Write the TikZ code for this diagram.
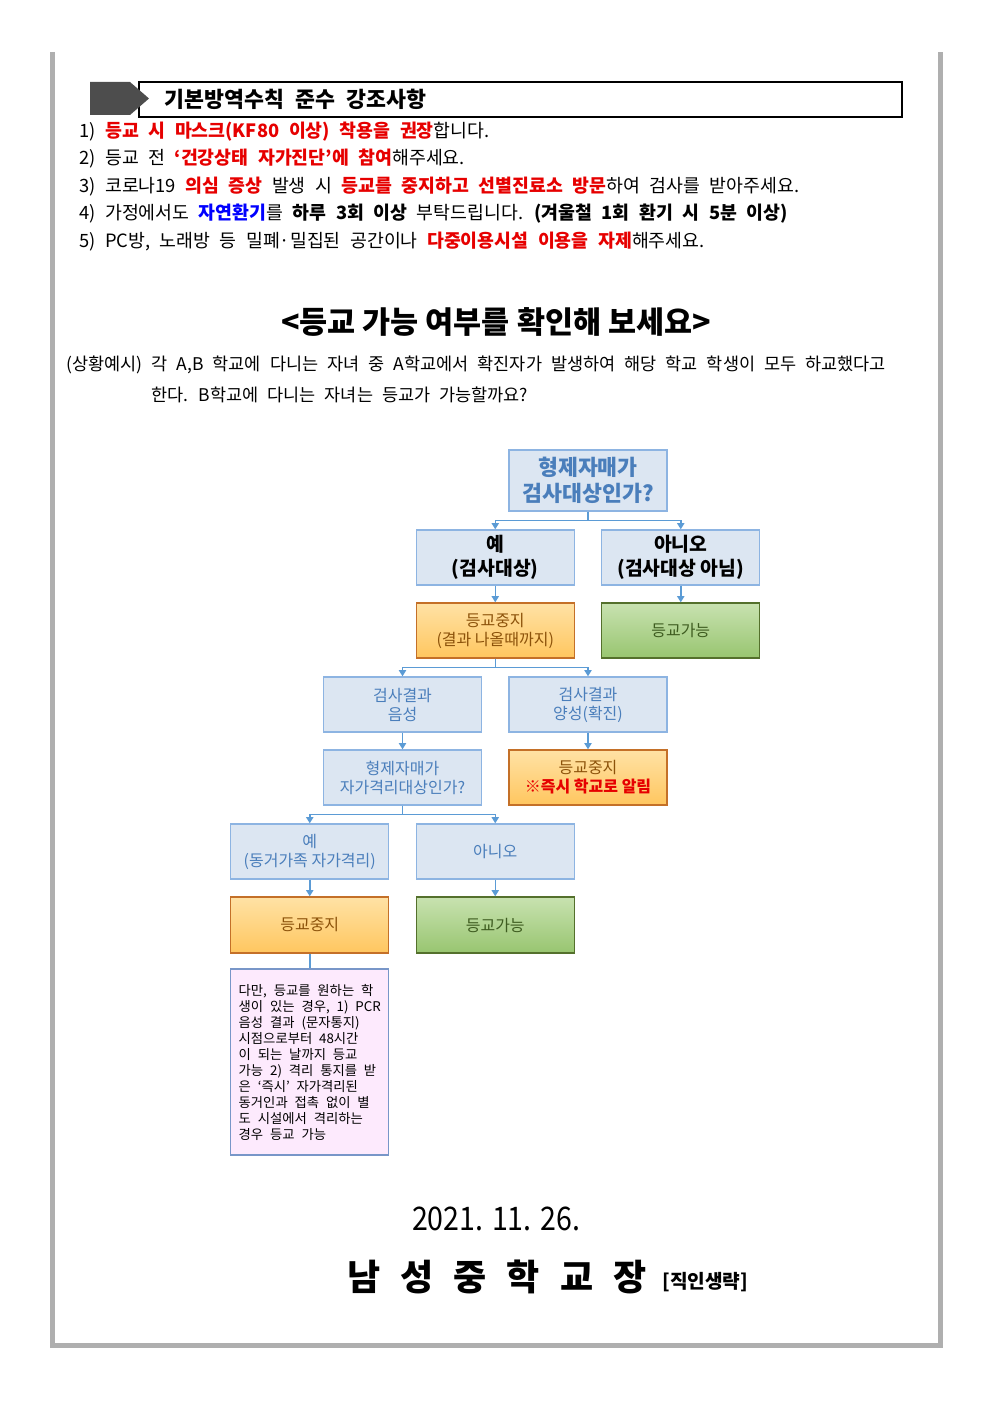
\documentclass[tikz,border=0pt]{standalone}
\usepackage{fontspec}
\setmainfont{Noto Sans CJK KR}
\newfontfamily\widekr[WordSpace=2.3]{Noto Sans CJK KR}
\newfontfamily\narrowkr[FakeStretch=0.88]{Noto Sans CJK KR}
\usetikzlibrary{arrows.meta}

\definecolor{framegray}{RGB}{175,175,175}
\definecolor{tabgray}{RGB}{77,77,77}
\definecolor{markred}{RGB}{230,0,0}
\definecolor{markblue}{RGB}{0,0,255}
\definecolor{linkblue}{RGB}{91,155,213}
\definecolor{qfill}{RGB}{220,230,242}
\definecolor{qdraw}{RGB}{141,180,226}
\definecolor{qtext}{RGB}{74,126,187}
\definecolor{stoptop}{RGB}{255,226,165}
\definecolor{stopbot}{RGB}{255,198,95}
\definecolor{stopdraw}{RGB}{196,112,40}
\definecolor{stoptext}{RGB}{140,82,10}
\definecolor{gotop}{RGB}{200,226,176}
\definecolor{gobot}{RGB}{152,197,112}
\definecolor{godraw}{RGB}{84,112,44}
\definecolor{gotext}{RGB}{62,92,32}
\definecolor{notefill}{RGB}{253,234,253}
\definecolor{notedraw}{RGB}{120,150,200}

\newcommand{\redb}[1]{{\bfseries\color{markred}#1}}
\newcommand{\blueb}[1]{{\bfseries\color{markblue}#1}}

\begin{document}
\begin{tikzpicture}[x=0.6pt,y=-0.6pt,grow=down,%
level 1/.style={sibling distance=111.3pt,level distance=46.2pt},
level 2/.style={level distance=43.8pt},
level 3/.style={sibling distance=111.3pt,level distance=44.4pt},
level 4/.style={level distance=43.8pt},
level 5/.style={sibling distance=111.3pt,level distance=44.4pt},
level 6/.style={level distance=44.1pt},
level 7/.style={level distance=82.2pt},
qbox/.style={rectangle,draw=qdraw,fill=qfill,line width=0.8pt,minimum width=94.8pt,minimum height=33pt,inner sep=2pt,align=center,text=qtext,font=\fontsize{9.6}{11.4}\selectfont},
askbox/.style={qbox,font=\fontsize{13}{15.6}\selectfont\bfseries},
answerbox/.style={qbox,text=black,font=\fontsize{11.6}{14.4}\selectfont\bfseries},
stopbox/.style={qbox,draw=stopdraw,top color=stoptop,bottom color=stopbot,text=stoptext},
gobox/.style={qbox,draw=godraw,top color=gotop,bottom color=gobot,text=gotext},
notebox/.style={rectangle,draw=notedraw,fill=notefill,line width=0.8pt,minimum width=94.8pt,minimum height=111.6pt,inner sep=2pt,align=left,font=\widekr\fontsize{8}{9.6}\selectfont},
body/.style={anchor=west,inner sep=0pt,font=\widekr\fontsize{11}{13}\selectfont},
edge from parent/.style={draw=linkblue,line width=0.9pt,-{Triangle[width=4.4pt,length=3.8pt]}},
edge from parent path={(\tikzparentnode.south) -- ++(0pt,-5.4pt) -| (\tikzchildnode.north)}]
\useasboundingbox (0,0) rectangle (992,1403);

% page frame
\draw[framegray,line width=3pt] (52.5,52) -- (52.5,1345.5) -- (940.5,1345.5) -- (940.5,52);

% heading
\draw[black,line width=0.8pt] (139,82) rectangle (902,117);
\fill[tabgray] (90,82) -- (130,82) -- (149,98.5) -- (130,115) -- (90,115) -- cycle;
\node (head) [anchor=west,inner sep=0pt,font=\widekr\fontsize{13}{15}\selectfont\bfseries] at (164,99) {기본방역수칙 준수 강조사항};

\node (rule1) [body] at (79,132) {1) \redb{등교 시 마스크(KF80 이상) 착용을 권장}합니다.};
\node (rule2) [body] at (79,159) {2) 등교 전 \redb{‘건강상태 자가진단’에 참여}해주세요.};
\node (rule3) [body] at (79,187) {3) 코로나19 \redb{의심 증상} 발생 시 \redb{등교를 중지하고 선별진료소 방문}하여 검사를 받아주세요.};
\node (rule4) [body] at (79,214) {4) 가정에서도 \blueb{자연환기}를 \textbf{하루 3회 이상} 부탁드립니다. \textbf{(겨울철 1회 환기 시 5분 이상)}};
\node (rule5) [body] at (79,242) {5) PC방, 노래방 등 밀폐·밀집된 공간이나 \redb{다중이용시설 이용을 자제}해주세요.};

\node (title) [inner sep=0pt,font=\fontsize{18.3}{20}\selectfont\bfseries] at (496,322) {<등교 가능 여부를 확인해 보세요>};
\node (case1) [body,font=\widekr\fontsize{10.5}{13}\selectfont] at (66,365) {(상황예시) 각 A,B 학교에 다니는 자녀 중 A학교에서 확진자가 발생하여 해당 학교 학생이 모두 하교했다고};
\node (case2) [body,font=\widekr\fontsize{10.5}{13}\selectfont] at (151,395) {한다. B학교에 다니는 자녀는 등교가 가능할까요?};

% flow
\node (ask1) [askbox,minimum height=36.6pt] at (588,480.5) {형제자매가\\검사대상인가?}
child {node (yes1) [answerbox] {예\\(검사대상)}
 child {node (wait) [stopbox] {등교중지\\(결과 나올때까지)}
  child {node (neg) [qbox] {검사결과\\음성}
   child {node (ask2) [qbox] {형제자매가\\자가격리대상인가?}
    child {node (yes2) [qbox] {예\\(동거가족 자가격리)}
     child {node (stop2) [stopbox,minimum height=33.6pt] {등교중지}
      child {node (memo) [notebox] {다만, 등교를 원하는 학\\생이 있는 경우, 1) PCR\\음성 결과 (문자통지)\\시점으로부터 48시간\\이 되는 날까지 등교\\가능 2) 격리 통지를 받\\은 ‘즉시’ 자가격리된\\동거인과 접촉 없이 별\\도 시설에서 격리하는\\경우 등교 가능}
       edge from parent[-]}}}
    child {node (no2) [qbox] {아니오}
     child {node (go2) [gobox,minimum height=33.6pt] {등교가능}}}}}
  child {node (pos) [qbox] {검사결과\\양성(확진)}
   child {node (stop1) [stopbox] {등교중지\\{\color{markred}\bfseries ※즉시 학교로 알림}}}}}}
child {node (no1) [answerbox] {아니오\\(검사대상 아님)}
 child {node (go1) [gobox] {등교가능}}};

% date and sign
\node (date) [inner sep=0pt,font=\narrowkr\fontsize{19.5}{21}\selectfont] at (496,1219) {2021. 11. 26.};
\node (sign) [inner sep=0pt,font=\fontsize{21.6}{24}\selectfont\bfseries] at (497,1277) {남\hspace{12pt}성\hspace{12pt}중\hspace{12pt}학\hspace{12pt}교\hspace{12pt}장};
\node (seal) [anchor=west,inner sep=0pt,font=\fontsize{11.5}{12}\selectfont\bfseries] at (662,1282) {[직인생략]};
\end{tikzpicture}
\end{document}
